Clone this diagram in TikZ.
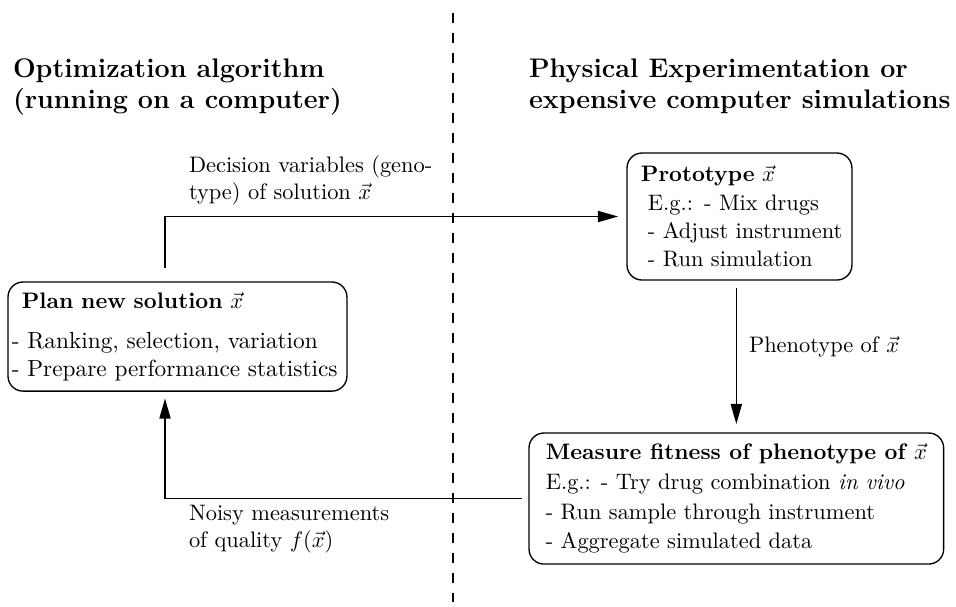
\documentclass[tikz,border=0pt]{standalone}
\usetikzlibrary{arrows.meta}
\begin{document}
\begin{tikzpicture}[x=0.4464pt,y=-0.4464pt,
  every node/.style={inner sep=0pt, outer sep=0pt},
  heading/.style={anchor=base west, font=\large\bfseries},
  stepbox/.style={draw, line width=0.6pt, rounded corners=6.7pt, align=left, anchor=north west},
  note/.style={anchor=base west, align=left, font=\normalsize},
  flow/.style={line width=0.6pt, -{Triangle[length=9pt,width=5pt]}},
  divider/.style={line width=0.6pt, dash pattern=on 4.46pt off 4.46pt}]

\useasboundingbox (0,0) rectangle (956,606);

% separator between the two worlds
\draw[divider] (453,13) -- (453,606);

% column headings
\node[heading] (hl1) at (13,77) {Optimization algorithm};
\node[heading] (hl2) at (13,108) {(running on a computer)};
\node[heading] (hr1) at (529,77) {Physical Experimentation or};
\node[heading] (hr2) at (529,108) {expensive computer simulations};

% process boxes
\node[stepbox, inner xsep=1.7pt, text width=147.9pt, minimum height=48.7pt,
      font=\fontsize{10.4}{12.5}\selectfont] (plan) at (8,282)
  {\hspace*{4.5pt}{\fontsize{10}{12}\selectfont\bfseries Plan new solution $\vec{x}$}\\[5.4pt]
   - Ranking, selection, variation\\
   - Prepare performance statistics};

\node[stepbox, inner xsep=2.2pt, text width=96pt, minimum height=56.7pt,
      font=\fontsize{10}{12.7}\selectfont] (proto) at (627,153)
  {\hspace*{4pt}\textbf{Prototype $\vec{x}$}\\
   \hspace*{7.1pt}E.g.: - Mix drugs\\
   \hspace*{7.1pt}- Adjust instrument\\
   \hspace*{7.1pt}- Run simulation};

\node[stepbox, inner xsep=7.5pt, minimum height=58.5pt,
      font=\fontsize{10}{13.3}\selectfont] (measure) at (529,433)
  {\textbf{Measure fitness of phenotype of $\vec{x}$}\\
   E.g.: - Try drug combination \textit{in vivo}\\
   - Run sample through instrument\\
   - Aggregate simulated data};

% connectors
\coordinate (xa) at (165,0);
\draw[flow, shorten <=6.2pt, shorten >=4pt] (plan.north -| xa) |- (proto.west);
\draw[flow, shorten <=3.6pt, shorten >=4pt] (measure.north |- proto.south) -- (measure.north);
\draw[flow, shorten <=3.1pt, shorten >=3.3pt] (measure.west) -| (plan.south -| xa);

% connector labels (anchored on the baseline of their last line)
\node[note] (dec) at (189,199) {Decision variables (geno-\\type) of solution $\vec{x}$};
\node[note] (pheno) at (749,352) {Phenotype of $\vec{x}$};
\node[note] (noisy) at (189,547) {Noisy measurements\\of quality $f(\vec{x})$};
\end{tikzpicture}
\end{document}
